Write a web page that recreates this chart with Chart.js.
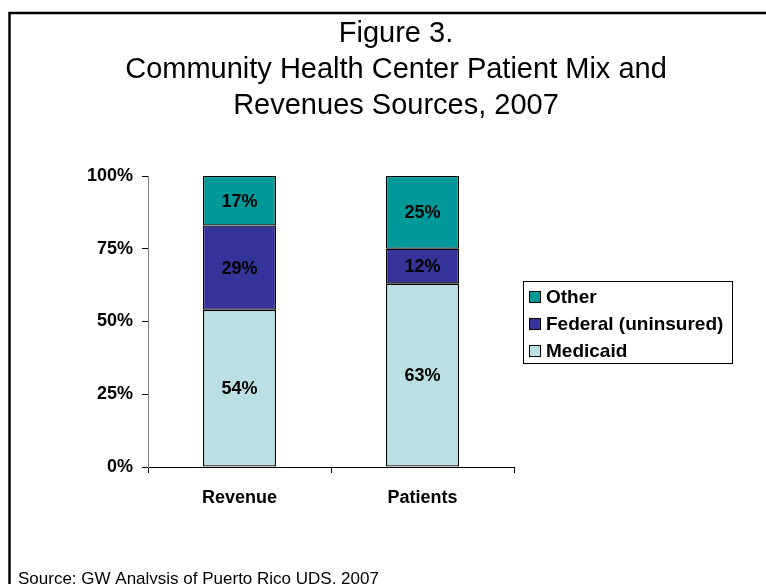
<!DOCTYPE html>
<html>
<head>
<meta charset="utf-8">
<title>Figure 3</title>
<script src="https://cdn.jsdelivr.net/npm/chart.js@4"></script>
<style>
  html, body { margin: 0; padding: 0; background: #fff; }
  canvas { display: block; }
</style>
</head>
<body>
<canvas id="chart" width="766" height="584"></canvas>
<script>
// data
const categories = ['Revenue', 'Patients'];
const medicaid = [54, 63];
const federal = [29, 12];
const other = [17, 25];
const seriesLabels = ['Medicaid', 'Federal (uninsured)', 'Other'];
const seriesColors = ['#BBE0E3', '#333399', '#009999'];
const titleLines = ['Figure 3.', 'Community Health Center Patient Mix and', 'Revenues Sources, 2007'];
const sourceNote = 'Source: GW Analysis of Puerto Rico UDS, 2007';

const FONT = "'Liberation Sans', Arial, sans-serif";

// frame, titles, source line
const decorations = {
  id: 'decorations',
  beforeDraw(chart) {
    const ctx = chart.ctx;
    ctx.save();
    ctx.fillStyle = '#fff';
    ctx.fillRect(0, 0, chart.width, chart.height);
    ctx.strokeStyle = '#000';
    ctx.lineWidth = 2.5;
    ctx.strokeRect(9.5, 13, 900, 700);
    ctx.fillStyle = '#000';
    ctx.font = '29px ' + FONT;
    ctx.textAlign = 'center';
    ctx.textBaseline = 'alphabetic';
    titleLines.forEach((line, i) => ctx.fillText(line, 396, 42 + i * 36));
    ctx.font = '17px ' + FONT;
    ctx.textAlign = 'left';
    ctx.fillText(sourceNote, 18, 584);
    ctx.restore();
  }
};

// value labels in the middle of each segment
const segmentLabels = {
  id: 'segmentLabels',
  afterDatasetsDraw(chart) {
    const ctx = chart.ctx;
    ctx.save();
    ctx.font = 'bold 18px ' + FONT;
    ctx.fillStyle = '#000';
    ctx.textAlign = 'center';
    ctx.textBaseline = 'middle';
    chart.data.datasets.forEach((ds, di) => {
      chart.getDatasetMeta(di).data.forEach((bar, i) => {
        ctx.fillText(ds.data[i] + '%', bar.x, (bar.y + bar.base) / 2 + 1);
      });
    });
    ctx.restore();
  }
};

// boxed legend, top series first
const boxedLegend = {
  id: 'boxedLegend',
  afterDraw(chart) {
    const ctx = chart.ctx;
    const left = 523, top = 281, w = 209, h = 82;
    ctx.save();
    ctx.strokeStyle = '#000';
    ctx.lineWidth = 1;
    ctx.strokeRect(left + 0.5, top + 0.5, w, h);
    ctx.font = 'bold 19px ' + FONT;
    ctx.textAlign = 'left';
    ctx.textBaseline = 'middle';
    const items = chart.data.datasets.slice().reverse();
    items.forEach((ds, i) => {
      const cy = 297 + i * 27;
      ctx.fillStyle = ds.backgroundColor;
      ctx.fillRect(529, cy - 6, 11, 11);
      ctx.strokeRect(529.5, cy - 5.5, 11, 11);
      ctx.fillStyle = '#000';
      ctx.fillText(ds.label, 546, cy + 1);
    });
    ctx.restore();
  }
};

const datasets = [medicaid, federal, other].map((values, i) => ({
  label: seriesLabels[i],
  data: values,
  backgroundColor: seriesColors[i],
  borderColor: '#000',
  borderWidth: 1.3,
  borderSkipped: false,
  barPercentage: 73 / 183,
  categoryPercentage: 1
}));

new Chart(document.getElementById('chart'), {
  type: 'bar',
  data: { labels: categories, datasets },
  options: {
    responsive: false,
    animation: false,
    layout: { padding: { top: 176, right: 252, bottom: 0, left: 0 } },
    plugins: {
      legend: { display: false },
      title: { display: false },
      tooltip: { enabled: false }
    },
    scales: {
      x: {
        stacked: true,
        afterFit: (scale) => { scale.height = 117; },
        grid: { display: true, drawOnChartArea: false, offset: true, tickLength: 6, color: '#000' },
        border: { color: '#000', width: 1 },
        ticks: { color: '#000', padding: 14, font: { family: FONT, size: 18, weight: 'bold' } }
      },
      y: {
        stacked: true,
        min: 0,
        max: 100,
        afterFit: (scale) => { scale.width = 148; },
        grid: { display: true, drawOnChartArea: false, tickLength: 6, color: '#000' },
        border: { color: '#808080', width: 1 },
        ticks: {
          stepSize: 25,
          color: '#000',
          padding: 9,
          font: { family: FONT, size: 18, weight: 'bold' },
          callback: (v) => v + '%'
        }
      }
    }
  },
  plugins: [decorations, segmentLabels, boxedLegend]
});
</script>
</body>
</html>
